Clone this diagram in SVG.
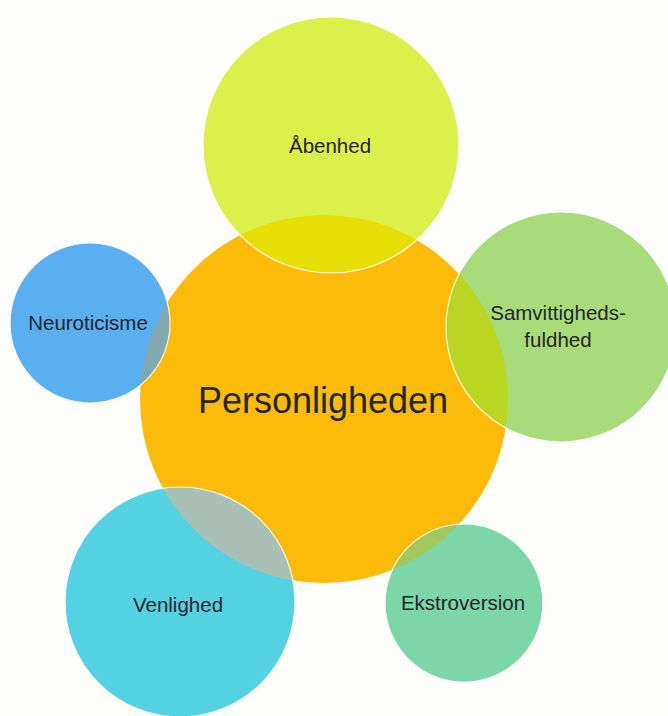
<svg xmlns="http://www.w3.org/2000/svg" width="668" height="716" viewBox="0 0 668 716">
<style>
.ov{clip-path:url(#core)}
.edge{fill:none;stroke:#ffffff;stroke-width:1.2;stroke-opacity:0.9}
.lbl{font-family:"Liberation Sans",Arial,sans-serif;font-size:20.5px;fill:#25252e;text-anchor:middle}
.big{font-size:36px}
</style>
<defs>
<clipPath id="core"><circle cx="324" cy="399" r="184"/></clipPath>
</defs>
<rect width="668" height="716" fill="#fdfdfc"/>
<g id="personligheden">
<circle cx="324" cy="399" r="184" fill="#fbbb08"/>
<text class="lbl big" x="323" y="413">Personligheden</text>
</g>
<g id="aabenhed">
<circle cx="331" cy="145" r="128" fill="#dcf04c"/>
<circle class="ov" cx="331" cy="145" r="128" fill="#e6de04"/>
<circle class="edge" cx="331" cy="145" r="128"/>
<text class="lbl" x="330" y="153">Åbenhed</text>
</g>
<g id="samvittighedsfuldhed">
<circle cx="561" cy="327" r="115" fill="#a8dc7a"/>
<circle class="ov" cx="561" cy="327" r="115" fill="#bad622"/>
<circle class="edge" cx="561" cy="327" r="115"/>
<text class="lbl" x="558" y="320">Samvittigheds-</text>
<text class="lbl" x="558" y="347">fuldhed</text>
</g>
<g id="neuroticisme">
<circle cx="90" cy="323" r="80" fill="#5aaff0"/>
<circle class="ov" cx="90" cy="323" r="80" fill="#82a9b0"/>
<circle class="edge" cx="90" cy="323" r="80"/>
<text class="lbl" x="88" y="330">Neuroticisme</text>
</g>
<g id="venlighed">
<circle cx="180" cy="602" r="115" fill="#55d2e2"/>
<circle class="ov" cx="180" cy="602" r="115" fill="#a9c0b6"/>
<circle class="edge" cx="180" cy="602" r="115"/>
<text class="lbl" x="178" y="612">Venlighed</text>
</g>
<g id="ekstroversion">
<circle cx="464" cy="603" r="79" fill="#7cd6a8"/>
<circle class="ov" cx="464" cy="603" r="79" fill="#a2c85c"/>
<circle class="edge" cx="464" cy="603" r="79"/>
<text class="lbl" x="463" y="610">Ekstroversion</text>
</g>
</svg>
